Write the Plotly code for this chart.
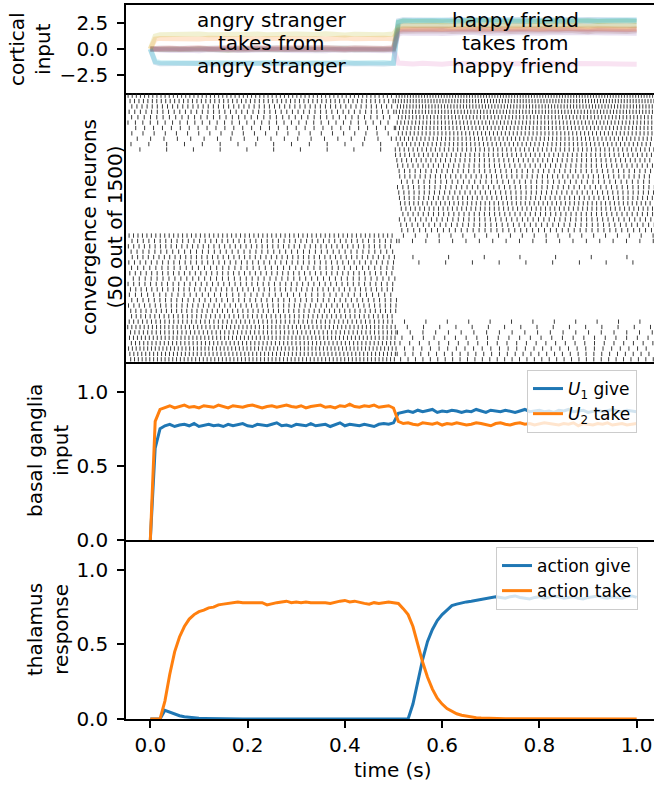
import plotly.graph_objects as go

TAB = ["#1f77b4", "#ff7f0e", "#2ca02c", "#d62728", "#9467bd",
       "#8c564b", "#e377c2", "#7f7f7f", "#bcbd22", "#17becf"]

# ---------------- panel 1: cortical input (10 dims) ----------------
T1 = [0.0, 0.01] + [round(0.02 * k, 2) for k in range(1, 26)] + [0.51] + \
     [round(0.5 + 0.02 * k, 2) for k in range(1, 26)]

CORT_BLUE = [0, -1.3,
    -1.42,-1.38,-1.45,-1.40,-1.36,-1.44,-1.41,-1.47,-1.39,-1.43,-1.37,-1.42,-1.46,-1.40,-1.38,-1.44,-1.41,-1.36,-1.43,-1.45,-1.39,-1.42,-1.40,-1.44,-1.38,
    2.7,
    2.80,2.76,2.83,2.78,2.74,2.81,2.79,2.85,2.77,2.82,2.75,2.80,2.84,2.78,2.76,2.82,2.79,2.74,2.81,2.83,2.77,2.80,2.78,2.82,2.76]
CORT_ORANGE = [0, 0.95,
    1.02,0.98,1.05,1.00,0.96,1.04,1.01,1.07,0.99,1.03,0.97,1.02,1.06,1.00,0.98,1.04,1.01,0.96,1.03,1.05,0.99,1.02,1.00,1.04,0.98,
    1.9,
    1.96,1.92,1.99,1.94,1.90,1.97,1.95,2.01,1.93,1.98,1.91,1.96,2.00,1.94,1.92,1.98,1.95,1.90,1.97,1.99,1.93,1.96,1.94,1.98,1.92]
CORT_GREEN = [0, -0.05,
    -0.05,-0.02,-0.08,-0.04,0.00,-0.07,-0.03,-0.09,-0.01,-0.06,0.01,-0.04,-0.08,-0.02,-0.05,0.00,-0.07,-0.03,-0.06,-0.01,-0.08,-0.04,-0.02,-0.06,-0.03,
    2.55,
    2.68,2.64,2.71,2.66,2.62,2.70,2.67,2.73,2.65,2.69,2.63,2.68,2.72,2.66,2.64,2.70,2.67,2.62,2.69,2.71,2.65,2.68,2.66,2.70,2.64]
CORT_RED = [0, 0.04,
    0.05,0.09,0.02,0.07,0.11,0.03,0.08,0.01,0.10,0.06,0.12,0.04,0.02,0.09,0.11,0.03,0.07,0.13,0.05,0.02,0.10,0.07,0.09,0.04,0.11,
    1.8,
    1.86,1.90,1.83,1.88,1.92,1.84,1.89,1.82,1.91,1.87,1.93,1.85,1.83,1.90,1.92,1.84,1.88,1.94,1.86,1.83,1.91,1.88,1.90,1.85,1.92]
CORT_PURPLE = [0, -0.08,
    -0.10,-0.14,-0.07,-0.12,-0.16,-0.08,-0.13,-0.06,-0.15,-0.11,-0.17,-0.09,-0.07,-0.14,-0.16,-0.08,-0.12,-0.18,-0.10,-0.07,-0.15,-0.12,-0.14,-0.09,-0.16,
    1.45,
    1.55,1.51,1.58,1.53,1.49,1.56,1.54,1.60,1.52,1.57,1.50,1.55,1.59,1.53,1.51,1.57,1.54,1.49,1.56,1.58,1.52,1.55,1.53,1.57,1.51]
CORT_BROWN = [0, -0.05,
    -0.06,-0.02,-0.09,-0.04,0.00,-0.08,-0.05,-0.11,-0.03,-0.07,-0.01,-0.06,-0.10,-0.04,-0.02,-0.08,-0.05,0.00,-0.07,-0.09,-0.03,-0.06,-0.04,-0.08,-0.02,
    1.65,
    1.70,1.74,1.67,1.72,1.76,1.68,1.73,1.66,1.75,1.71,1.77,1.69,1.67,1.74,1.76,1.68,1.72,1.78,1.70,1.67,1.75,1.72,1.74,1.69,1.76]
CORT_PINK = [0, 0.0,
    0.02,-0.02,0.05,0.00,-0.04,0.03,0.01,0.06,-0.01,0.04,-0.03,0.02,0.05,0.00,-0.02,0.04,0.01,-0.04,0.03,0.05,-0.01,0.02,0.00,0.04,-0.02,
    -1.35,
    -1.40,-1.44,-1.37,-1.42,-1.46,-1.38,-1.43,-1.36,-1.45,-1.41,-1.47,-1.39,-1.37,-1.44,-1.46,-1.38,-1.42,-1.48,-1.40,-1.37,-1.45,-1.42,-1.44,-1.39,-1.46]
CORT_GRAY = [0, 0.08,
    0.10,0.06,0.13,0.08,0.04,0.11,0.09,0.15,0.07,0.12,0.05,0.10,0.14,0.08,0.06,0.12,0.09,0.04,0.11,0.13,0.07,0.10,0.08,0.12,0.06,
    2.2,
    2.30,2.26,2.33,2.28,2.24,2.31,2.29,2.35,2.27,2.32,2.25,2.30,2.34,2.28,2.26,2.32,2.29,2.24,2.31,2.33,2.27,2.30,2.28,2.32,2.26]
CORT_OLIVE = [0, 1.25,
    1.38,1.42,1.35,1.40,1.44,1.36,1.41,1.34,1.43,1.39,1.45,1.37,1.35,1.42,1.44,1.36,1.40,1.46,1.38,1.35,1.43,1.40,1.42,1.37,1.44,
    2.1,
    2.20,2.24,2.17,2.22,2.26,2.18,2.23,2.16,2.25,2.21,2.27,2.19,2.17,2.24,2.26,2.18,2.22,2.28,2.20,2.17,2.25,2.22,2.24,2.19,2.26]
CORT_CYAN = [0, -1.2,
    -1.30,-1.34,-1.28,-1.33,-1.36,-1.29,-1.32,-1.27,-1.35,-1.31,-1.37,-1.30,-1.28,-1.34,-1.36,-1.29,-1.33,-1.38,-1.31,-1.28,-1.35,-1.32,-1.34,-1.30,-1.36,
    2.6,
    2.72,2.76,2.70,2.75,2.78,2.71,2.74,2.69,2.77,2.73,2.79,2.72,2.70,2.76,2.78,2.71,2.75,2.80,2.73,2.70,2.77,2.74,2.76,2.72,2.78]
CORTICAL_SERIES = [CORT_BLUE, CORT_ORANGE, CORT_GREEN, CORT_RED, CORT_PURPLE,
                   CORT_BROWN, CORT_PINK, CORT_GRAY, CORT_OLIVE, CORT_CYAN]

LEFT_TEXT = ["angry stranger", "takes from", "angry stranger"]
RIGHT_TEXT = ["happy friend", "takes from", "happy friend"]
TEXT_Y = [2.8, 0.58, -1.62]

# ---------------- panel 2: spike raster (50 neurons) ----------------
RATE_L = [130,120,105,95,85,72,60,48,40,30,20,
          0,0,0,0,0,0,0,0,0,0,0,0,0,0,0,
          120,95,100,90,100,95,88,98,90,95,100,88,95,100,105,115,120,130,125,135,130,140,135,140]
RATE_R = [190,180,170,165,150,145,140,135,130,125,120,
          115,110,105,100,105,95,100,105,110,120,115,105,100,95,90,
          45,40,0,0,15,20,0,0,0,0,0,0,0,0,0,0,25,33,42,50,55,62,68,72]
PHASE_L = [0.12,0.55,0.83,0.27,0.64,0.05,0.91,0.38,0.72,0.19,0.46,
           0,0,0,0,0,0,0,0,0,0,0,0,0,0,0,
           0.33,0.78,0.14,0.59,0.87,0.22,0.65,0.41,0.96,0.08,0.53,0.29,0.74,0.17,0.62,0.85,0.36,0.03,0.69,0.48,0.92,0.25,0.57,0.81]
PHASE_R = [0.44,0.09,0.71,0.36,0.93,0.58,0.15,0.82,0.27,0.66,0.04,
           0.10,0.25,0.40,0.55,0.70,0.85,0.15,0.30,0.45,0.60,0.75,0.90,0.20,0.35,0.50,
           0.61,0.18,0,0,0.47,0.83,0,0,0,0,0,0,0,0,0,0,0.39,0.72,0.06,0.54,0.28,0.91,0.13,0.67]
SWITCH = [0.503]*11 + [0.503,0.504,0.504,0.505,0.505,0.506,0.506,0.507,0.507,0.508,0.508,0.509,0.509,0.510,0.510] + \
         [0.505,0.506,0.504,0.507,0.505,0.506,0.504,0.505,0.507,0.506,0.505,0.504,0.506,0.505,0.507,0.506,0.505,0.504,0.506,0.505,0.507,0.506,0.505,0.504]
ONSET_L = 0.003

# ---------------- panels 3/4 ----------------
T = [round(0.01 * k, 2) for k in range(101)]
U1_GIVE = [0.00, 0.62, 0.75,
    0.77,0.78,0.765,0.775,0.78,0.77,0.785,0.765,0.775,0.78,
    0.77,0.775,0.765,0.78,0.77,0.775,0.785,0.77,0.765,0.78,
    0.775,0.77,0.78,0.79,0.77,0.775,0.765,0.78,0.775,0.77,
    0.785,0.77,0.775,0.78,0.765,0.775,0.79,0.77,0.78,0.775,
    0.77,0.78,0.775,0.765,0.78,0.785,0.78,0.79,
    0.855,0.865,0.87,0.86,0.875,0.865,0.87,0.88,0.86,0.87,
    0.865,0.875,0.87,0.86,0.87,0.865,0.88,0.87,0.86,0.875,
    0.87,0.865,0.875,0.87,0.86,0.87,0.88,0.865,0.87,0.875,
    0.865,0.87,0.86,0.875,0.87,0.88,0.865,0.87,0.875,0.86,
    0.87,0.875,0.865,0.87,0.88,0.87,0.865,0.875,0.87,0.865]
U2_TAKE = [0.00, 0.80, 0.88,
    0.895,0.905,0.89,0.90,0.91,0.895,0.90,0.89,0.905,0.90,
    0.895,0.91,0.90,0.89,0.905,0.90,0.895,0.905,0.91,0.90,
    0.89,0.90,0.905,0.895,0.90,0.91,0.90,0.895,0.905,0.89,
    0.90,0.905,0.91,0.895,0.90,0.89,0.905,0.90,0.915,0.90,
    0.895,0.905,0.90,0.91,0.895,0.90,0.905,0.89,
    0.80,0.785,0.79,0.78,0.775,0.79,0.785,0.78,0.79,0.775,
    0.785,0.78,0.79,0.785,0.775,0.78,0.79,0.785,0.78,0.77,
    0.785,0.79,0.78,0.775,0.785,0.79,0.78,0.785,0.775,0.78,
    0.79,0.785,0.78,0.775,0.785,0.78,0.79,0.77,0.785,0.78,
    0.775,0.785,0.78,0.79,0.775,0.78,0.785,0.775,0.78,0.785]
ACT_GIVE = [0, 0, 0, 0.058,
    0.045,0.032,0.022,0.015,0.010,0.007,0.005,0.004,0.003,0.002,0.002,0.001,
    0,0,0,0,0,0,0,0,0,0, 0,0,0,0,0,0,0,0,0,0, 0,0,0,0,0,0,0,0,0,0, 0,0,0,0,0,0,0,0,
    0.10,0.25,0.40,0.52,0.60,0.66,0.70,0.73,0.76,0.77,0.78,0.785,0.79,0.795,0.80,0.805,0.81,
    0.82,0.815,0.81,0.82,0.825,0.815,0.81,0.805,0.815,0.82,
    0.81,0.815,0.825,0.82,0.81,0.815,0.82,0.81,0.805,0.815,
    0.82,0.825,0.815,0.81,0.82,0.815,0.81,0.82,0.825,0.815]
ACT_TAKE = [0, 0, 0,
    0.12,0.30,0.45,0.55,0.62,0.67,0.70,0.72,0.73,0.745,0.75,0.765,0.77,0.775,0.78,0.785,0.78,0.78,
    0.775,0.775,0.78,0.765,0.775,0.78,0.785,0.79,0.78,0.785,
    0.78,0.785,0.78,0.78,0.785,0.78,0.775,0.785,0.79,0.795,
    0.785,0.79,0.78,0.775,0.77,0.78,0.775,0.78,0.785,0.78,
    0.775,0.74,0.70,0.62,0.50,0.38,0.28,0.20,0.14,0.10,
    0.07,0.05,0.035,0.025,0.018,0.012,0.009,0.006,0.004,0.003,
    0.002,0.002,0.001,0.001,0.001,0,0,0,0,0, 0,0,0,0,0,0,0,0,0,0, 0,0,0,0,0,0,0,0,0,0]

# ---------------- geometry (pixels of the 654x785 page) ----------------
W, H = 654, 785
L, R, TOP, BOT = 126, 0, 5, 66
PW, PH = W - L - R, H - TOP - BOT
def py(p):  # pixel y -> paper y
    return (H - BOT - p) / PH
def px(p):  # pixel x -> paper x
    return (p - L) / PW

D1 = [py(93), 1.0]
D2 = [py(362), py(93)]
D3 = [py(540), py(362)]
D4 = [0.0, py(540)]
XR = [-0.05, -0.05 + 1.1 * PW / 535.0]
XR_RASTER = [0.0, PW / 535.0]

fig = go.Figure()

for vals, col in zip(CORTICAL_SERIES, TAB):
    fig.add_trace(go.Scatter(x=T1, y=vals, mode="lines", xaxis="x", yaxis="y",
                             line=dict(color=col, width=5), opacity=0.2,
                             showlegend=False, hoverinfo="skip"))

xs, ys = [], []
for i in range(50):
    if RATE_L[i] > 0:
        k = 0
        while True:
            t = ONSET_L + (k + PHASE_L[i]) / RATE_L[i]
            if t >= SWITCH[i]:
                break
            xs += [t, t, None]
            ys += [i - 0.4, i + 0.4, None]
            k += 1
    if RATE_R[i] > 0:
        k = 0
        while True:
            t = SWITCH[i] + (k + PHASE_R[i]) / RATE_R[i]
            if t > 1.0:
                break
            xs += [t, t, None]
            ys += [i - 0.4, i + 0.4, None]
            k += 1
fig.add_trace(go.Scatter(x=xs, y=ys, mode="lines", xaxis="x2", yaxis="y2",
                         line=dict(color="#222222", width=0.9),
                         showlegend=False, hoverinfo="skip", connectgaps=False))

fig.add_trace(go.Scatter(x=T, y=U1_GIVE, mode="lines", xaxis="x3", yaxis="y3",
                         line=dict(color=TAB[0], width=3),
                         name="<i>U</i><sub>1</sub> give", legend="legend"))
fig.add_trace(go.Scatter(x=T, y=U2_TAKE, mode="lines", xaxis="x3", yaxis="y3",
                         line=dict(color=TAB[1], width=3),
                         name="<i>U</i><sub>2</sub> take", legend="legend"))
fig.add_trace(go.Scatter(x=T, y=ACT_GIVE, mode="lines", xaxis="x4", yaxis="y4",
                         line=dict(color=TAB[0], width=3),
                         name="action give", legend="legend2"))
fig.add_trace(go.Scatter(x=T, y=ACT_TAKE, mode="lines", xaxis="x4", yaxis="y4",
                         line=dict(color=TAB[1], width=3),
                         name="action take", legend="legend2"))

axline = dict(showline=True, linecolor="black", linewidth=1.6,
              showgrid=False, zeroline=False)
tickstyle = dict(ticks="outside", ticklen=7, tickwidth=1.6, tickcolor="black",
                 tickfont=dict(size=20, color="black"))

fig.update_layout(
    width=W, height=H,
    margin=dict(l=L, r=R, t=TOP, b=BOT),
    plot_bgcolor="white", paper_bgcolor="white",
    font=dict(family="DejaVu Sans", size=20, color="black"),
    xaxis=dict(domain=[0, 1], anchor="y", range=XR, mirror=True,
               showticklabels=False, ticks="", **axline),
    xaxis2=dict(domain=[0, 1], anchor="y2", range=XR_RASTER, mirror=False,
                showticklabels=False, ticks="", **axline),
    xaxis3=dict(domain=[0, 1], anchor="y3", range=XR, mirror=False,
                showticklabels=False, ticks="", **axline),
    xaxis4=dict(domain=[0, 1], anchor="y4", range=XR, mirror=False,
                tickvals=[0, 0.2, 0.4, 0.6, 0.8, 1.0],
                ticktext=["0.0", "0.2", "0.4", "0.6", "0.8", "1.0"],
                ticklabelstandoff=0, **tickstyle, **axline),
    yaxis=dict(domain=D1, anchor="x", range=[-4.23, 4.23],
               tickvals=[-2.5, 0, 2.5], ticktext=["\u22122.5", "0.0", "2.5"],
               ticklabelstandoff=5, **tickstyle, **axline),
    yaxis2=dict(domain=D2, anchor="x2", range=[49.5, -0.5],
                showticklabels=False, ticks="", **axline),
    yaxis3=dict(domain=D3, anchor="x3", range=[0, 1.2],
                tickvals=[0, 0.5, 1.0], ticktext=["0.0", "0.5", "1.0"],
                ticklabelstandoff=5, **tickstyle, **axline),
    yaxis4=dict(domain=D4, anchor="x4", range=[0, 1.2],
                tickvals=[0, 0.5, 1.0], ticktext=["0.0", "0.5", "1.0"],
                ticklabelstandoff=5, **tickstyle, **axline),
    legend=dict(x=px(527), y=py(370), xanchor="left", yanchor="top",
                bgcolor="rgba(255,255,255,0.8)", bordercolor="#cccccc",
                borderwidth=1, font=dict(size=17), tracegroupgap=0),
    legend2=dict(x=px(496), y=py(547), xanchor="left", yanchor="top",
                 bgcolor="rgba(255,255,255,0.8)", bordercolor="#cccccc",
                 borderwidth=1, font=dict(size=17), tracegroupgap=0),
)

annos = []
for txt, yv in zip(LEFT_TEXT, TEXT_Y):
    annos.append(dict(x=0.25, y=yv, xref="x", yref="y", text=txt, showarrow=False,
                      font=dict(size=20), xanchor="center", yanchor="middle"))
for txt, yv in zip(RIGHT_TEXT, TEXT_Y):
    annos.append(dict(x=0.75, y=yv, xref="x", yref="y", text=txt, showarrow=False,
                      font=dict(size=20), xanchor="center", yanchor="middle"))

YLABELS = [("cortical<br>input", 30, 49),
           ("convergence neurons<br>(50 out of 1500)", 102, 227),
           ("basal ganglia<br>input", 48, 451),
           ("thalamus<br>response", 48, 630)]
for txt, cx, cy in YLABELS:
    annos.append(dict(x=px(cx), y=py(cy), xref="paper", yref="paper", text=txt,
                      showarrow=False, textangle=-90, font=dict(size=20),
                      xanchor="center", yanchor="middle"))
annos.append(dict(x=px(393), y=py(770), xref="paper", yref="paper", text="time (s)",
                  showarrow=False, font=dict(size=20), xanchor="center", yanchor="middle"))
fig.update_layout(annotations=annos)

fig.write_html("out.html", config={"displayModeBar": False},
               post_script="document.body.style.margin='0';document.body.style.overflow='hidden';")
